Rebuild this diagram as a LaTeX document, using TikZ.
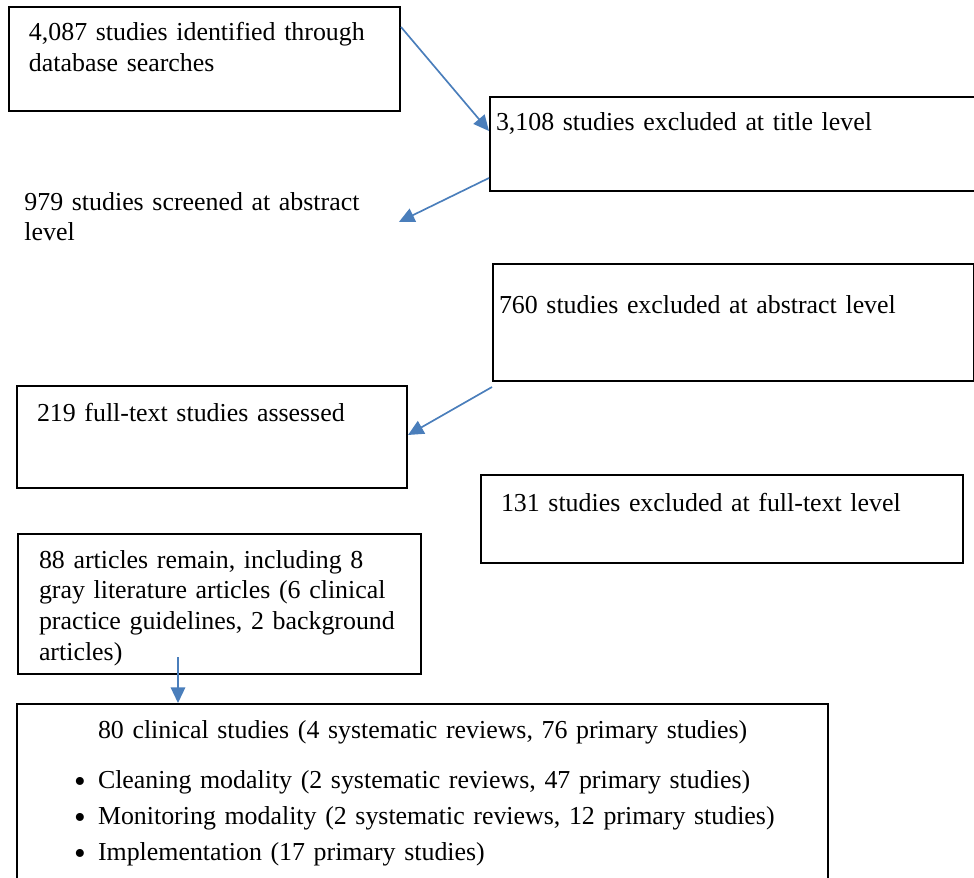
\documentclass[tikz,border=0pt]{standalone}
\usepackage{fontspec}
\setmainfont{Liberation Serif}
\usepackage{tikz}
\usetikzlibrary{arrows.meta, positioning, calc}
\definecolor{arrblue}{RGB}{74, 126, 187}
\hyphenpenalty=10000
\tikzset{
  stage/.style={draw=black, line width=0.9pt, anchor=north west, align=left,
                inner ysep=0pt, font=\fontsize{11.65}{13.8}\selectfont},
  plain/.style={anchor=base west, align=left, inner sep=0pt,
                font=\fontsize{11.65}{13.8}\selectfont},
  flow/.style={-{Triangle[length=7pt, width=6.5pt]}, draw=arrblue, line width=0.75pt},
}
\newcommand{\bitem}{\hspace*{36.45pt}\llap{\raisebox{-1.9pt}{\fontsize{15}{14}\selectfont\textbullet}\hspace{5.5pt}}}

\begin{document}
\begin{tikzpicture}[x=0.45pt, y=-0.45pt]
  \useasboundingbox (0,0) rectangle (974,878);
  \node[stage, inner xsep=9pt, text width=157.95pt, text height=15.3pt,
        text depth=31.5pt] (ident) at (8,6) {4,087 studies identified through\\database searches};
  \node[stage, inner xsep=2.7pt, text width=215.55pt, text height=15.3pt,
        text depth=27pt] (extitle) at (489,96) {3,108 studies excluded at title level};
  \node[plain, text width=168.3pt] (screen) at (24,210) {979 studies screened at abstract\\level};
  \node[stage, inner xsep=2.7pt, text width=211.05pt, text height=22.05pt,
        text depth=30.6pt] (exabs) at (492,263) {760 studies excluded at abstract level};
  \node[stage, inner xsep=9pt, text width=157.5pt, text height=15.75pt,
        text depth=30.15pt] (full) at (16,385) {219 full-text studies assessed};
  \node[stage, inner xsep=9pt, text width=198.9pt, text height=16.2pt,
        text depth=23.4pt] (exfull) at (480,474) {131 studies excluded at full-text level};
  \node[stage, inner xsep=9.45pt, text width=162.45pt, text height=15.3pt,
        text depth=47.7pt] (remain) at (17,533) {88 articles remain, including 8\\gray literature articles (6 clinical\\practice guidelines, 2 background\\articles)};
  \node[stage, inner xsep=0pt, text width=364.95pt, text height=15.3pt,
        text depth=74.7pt] (clin) at (16,703) {\hspace*{36.45pt}80 clinical studies (4 systematic reviews, 76 primary studies)\\[8.7pt]
        \bitem Cleaning modality (2 systematic reviews, 47 primary studies)\\[2.4pt]
        \bitem Monitoring modality (2 systematic reviews, 12 primary studies)\\[2.6pt]
        \bitem Implementation (17 primary studies)};
  \draw[flow] ($(ident.north east)+(0,21)$) -- ($(extitle.north west)+(0,35)$);
  \draw[flow] ($(extitle.south west)+(0,-14)$) -- ($(screen.base east)+(0,12)$);
  \draw[flow] ($(exabs.south west)+(0,5)$) -- ($(full.north east)+(0,50)$);
  \draw[flow] ($(remain.south west)+(161,-18)$) -- ($(clin.north west)+(162,0)$);
\end{tikzpicture}
\end{document}
